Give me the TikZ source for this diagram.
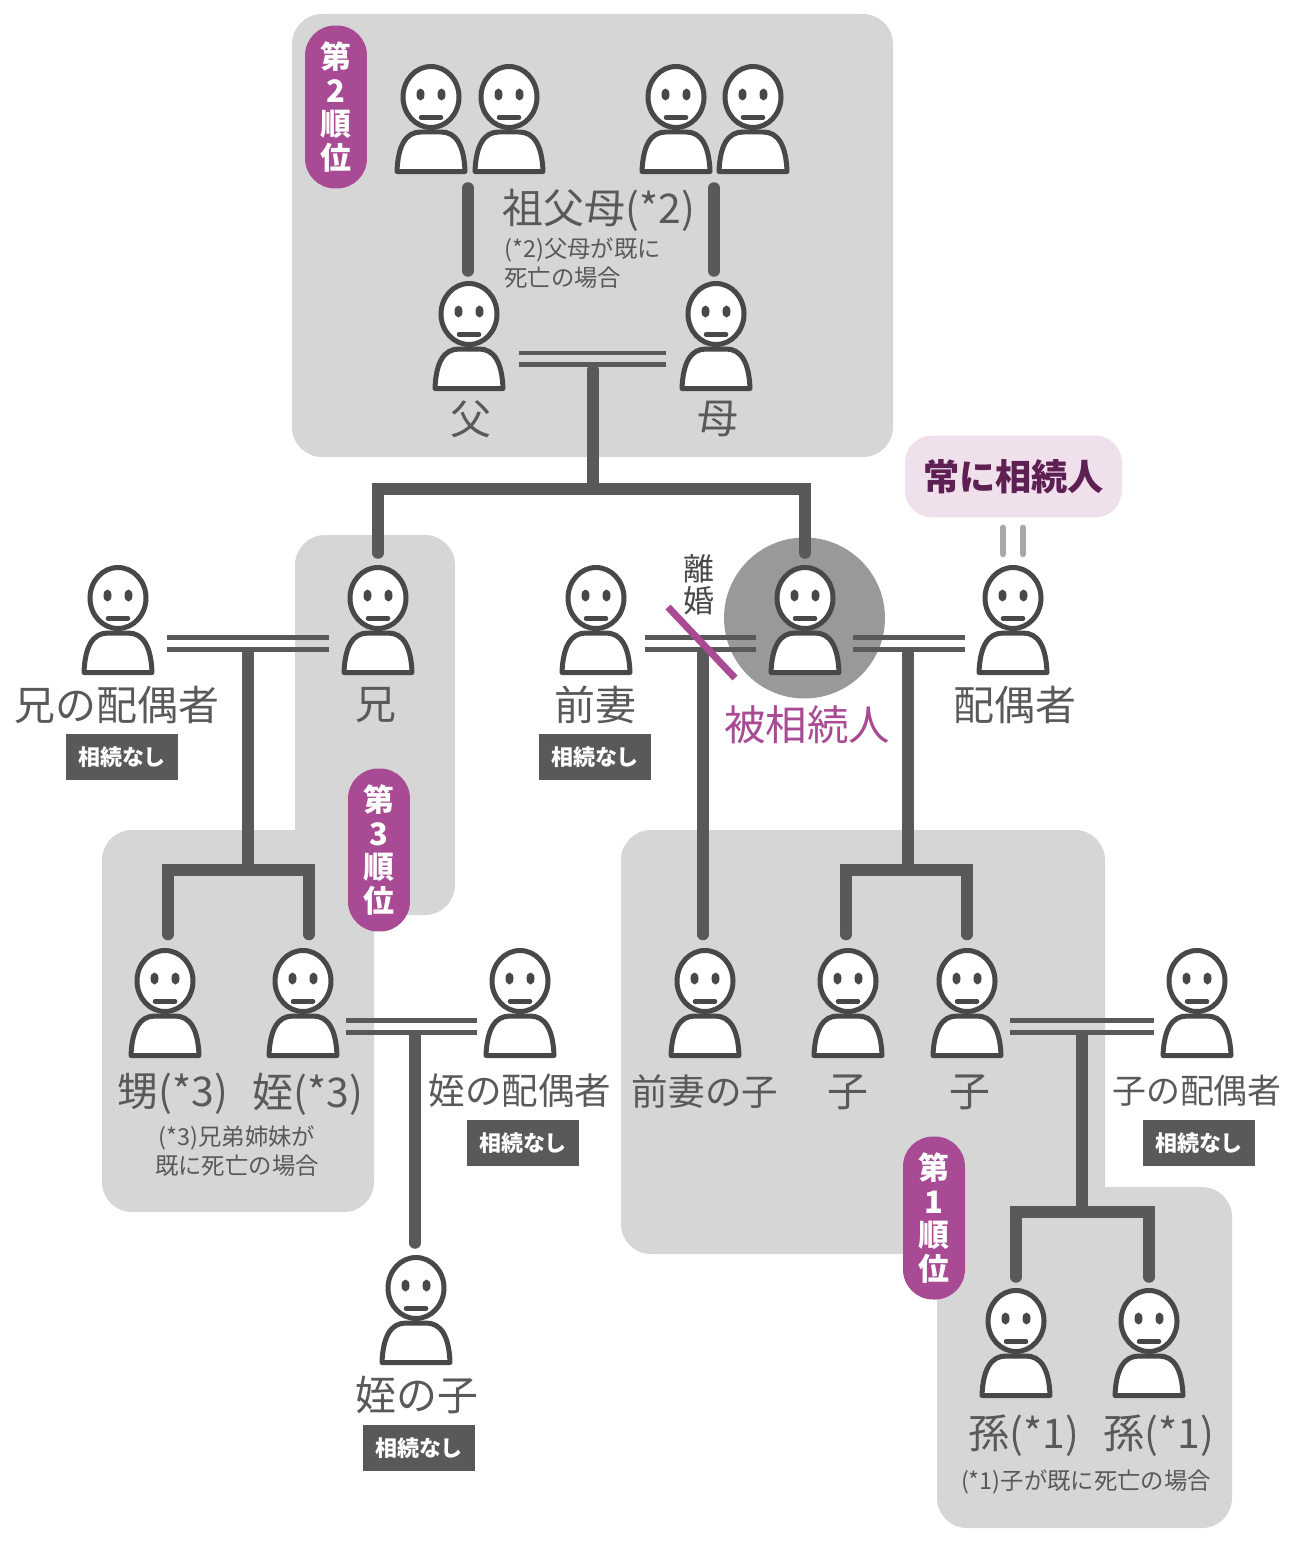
\documentclass[tikz,border=0pt]{standalone}
\usepackage{fontspec}
\setmainfont{Noto Sans CJK JP}
\definecolor{regiongray}{HTML}{D6D6D6}
\definecolor{circlegray}{HTML}{999999}
\definecolor{linegray}{HTML}{595959}
\definecolor{facegray}{HTML}{484848}
\definecolor{rankpurple}{HTML}{A84B94}
\definecolor{alwayspink}{HTML}{EFE0EC}
\definecolor{alwaysplum}{HTML}{5E1F52}
\tikzset{
  person/.style={minimum width=1.52cm, minimum height=2.24cm, inner sep=0pt, outer sep=0pt,
    path picture={
      \begin{scope}[shift=(path picture bounding box.center), x=0.02cm, y=-0.02cm, line width=0.1cm, draw=facegray]
        \filldraw[fill=white, line join=round] (-34,52.5) .. controls (-33,26) and (-25,13) .. (-10,13) -- (10,13)
          .. controls (25,13) and (33,26) .. (34,52.5) -- cycle;
        \filldraw[fill=white] (0,-22) ellipse [x radius=28, y radius=30.5];
        \fill[facegray] (-10.5,-24.5) ellipse [x radius=4, y radius=6];
        \fill[facegray] (10.5,-24.5) ellipse [x radius=4, y radius=6];
        \draw[line width=0.09cm, line cap=round] (-10,-1.5) -- (10,-1.5);
      \end{scope}
    }},
  region/.style={fill=regiongray, rounded corners=0.6cm},
  marriage/.style={draw=linegray, line width=0.1cm},
  branch/.style={draw=linegray, line width=0.23cm, line cap=round},
  biglabel/.style={text=linegray, inner sep=0pt, font=\fontsize{23.3}{28}\selectfont},
  midlabel/.style={text=linegray, inner sep=0pt, font=\fontsize{20.8}{25}\selectfont},
  smalllabel/.style={text=linegray, inner sep=0pt, align=center, font=\fontsize{13.3}{16.5}\selectfont},
  nonebox/.style={fill=linegray, text=white, inner sep=0pt, minimum width=2.24cm, minimum height=0.92cm,
    font=\bfseries\fontsize{12.5}{15}\selectfont},
  rankpill/.style={fill=rankpurple, text=white, inner sep=0pt, align=center, minimum width=1.24cm, minimum height=3.26cm,
    rounded corners=0.6cm, font=\bfseries\fontsize{17.6}{19}\selectfont},
}

\begin{document}
\begin{tikzpicture}[x=0.02cm, y=-0.02cm]

   \useasboundingbox (0,0) rectangle (1300,1541);

   % rank regions
   \fill[region] (292,14) rectangle (893,457);
   \fill[region] (295,535) rectangle (455,915);
   \fill[region] (102,830) rectangle (374,1212);
   \fill[region] (621,830) rectangle (1105,1254);
   \fill[region] (937,1187) rectangle (1232,1528);
   \fill[regiongray] (295,800) rectangle (330,860);
   \fill[regiongray] (1040,1150) rectangle (1105,1220);

   \node [circle, fill=circlegray, minimum size=3.22cm, inner sep=0pt] (vCircle) at (804.5,618) {};

   \foreach \x/\y/\t in {431/119/GrandpaA, 509/119/GrandmaA, 676/119/GrandpaB, 753/119/GrandmaB,
       469/336/Father, 716/336/Mother,
       118/620/BrotherWife, 378/620/Brother, 596/620/ExWife, 805/620/Deceased, 1013/620/Spouse,
       165/1003/Nephew, 303/1003/Niece, 520/1003/NieceSpouse, 705/1003/ExChild,
       848/1003/ChildA, 967/1003/ChildB, 1197/1003/ChildSpouse,
       416/1310/NieceChild, 1016/1343/GrandA, 1149/1343/GrandB}
     \node [person] (v\t) at (\x,\y) {};

   % couples
   \foreach \a/\b/\s in {Father/Mother/0.24cm, BrotherWife/Brother/0.23cm, ExWife/Deceased/0.23cm,
       Deceased/Spouse/0.2cm, Niece/NieceSpouse/0.11cm, ChildB/ChildSpouse/0.1cm}
     \foreach \d in {-0.34cm, -0.58cm}
       \draw[marriage, shorten <=\s, shorten >=\s] ([yshift=\d]v\a.east) -- ([yshift=\d]v\b.west);

   % joints under the couples
   \foreach \x/\y/\t in {593/370/Parents, 248/654/Brother, 703/654/Ex, 908/654/Spouse, 415/1036/Niece, 1082/1036/Child}
     \coordinate (m\t) at (\x,\y);
   \foreach \x/\y/\t in {593/489/Parents, 248/870/Brother, 908/870/Spouse, 1082/1212/Child}
     \coordinate (f\t) at (\x,\y);

   \foreach \t in {Parents, Brother, Spouse, Child}
     \draw[branch] (m\t) -- (f\t);
   \foreach \a/\b/\t/\p/\q/\s in {Brother/Deceased/Parents/0cm/0cm/0.22cm, Nephew/Niece/Brother/0.06cm/0.12cm/0.25cm,
       ChildA/ChildB/Spouse/-0.04cm/0cm/0.25cm, GrandA/GrandB/Child/0cm/0cm/0.2cm}
     \draw[branch, line join=miter, shorten <=\s, shorten >=\s]
       ([xshift=\p]v\a.north) |- (f\t) -| ([xshift=\q]v\b.north);

   \draw[branch, shorten >=0.25cm] (mEx) -- (mEx |- vExChild.north);
   \draw[branch, shorten >=0.22cm] (mNiece) -- (mNiece |- vNieceChild.north);
   \draw[branch, shorten <=0.18cm, shorten >=0.26cm] ([xshift=-0.02cm]vFather.north) -- ([xshift=-0.02cm]vFather.north |- vGrandpaA.south);
   \draw[branch, shorten <=0.18cm, shorten >=0.26cm] ([xshift=-0.04cm]vMother.north) -- ([xshift=-0.04cm]vMother.north |- vGrandpaB.south);

   % divorce mark
   \coordinate (cutA) at (668,607);
   \coordinate (cutB) at (735,678);
   \draw[draw=rankpurple, line width=0.14cm] (cutA) -- (cutB);

   \node [fill=alwayspink, text=alwaysplum, minimum width=4.34cm, minimum height=1.64cm, inner sep=0pt,
       rounded corners=0.54cm, font=\bfseries\fontsize{20.6}{25}\selectfont] (always) at (1013.5,476.5) {常に相続人};
   \foreach \d in {-0.2cm, 0.2cm}
     \draw[draw=circlegray!85, line width=0.13cm, line cap=round, shorten <=0.2cm, shorten >=0.2cm]
       ([xshift=\d]vSpouse.north) -- ([xshift=\d]vSpouse.north |- always.south);

   \foreach \x/\y/\n in {336/107/2, 379/850/3, 934/1218/1}
     \node [rankpill] (rank\n) at (\x,\y) {第\\\n\\順\\位};

   \foreach [count=\i] \x/\y/\t in {599/210/祖父母(*2), 471/419/父, 718/419/母, 117/705/兄の配偶者, 376/705/兄,
       595/705/前妻, 1015/705/配偶者, 173/1094/甥(*3), 308/1094/姪(*3), 848/1092/子, 970/1092/子,
       417/1395/姪の子, 1024/1436/孫(*1), 1159/1436/孫(*1)}
     \node [biglabel] (l\i) at (\x,\y) {\t};

   \foreach [count=\i] \x/\y/\t in {520/1091/姪の配偶者, 705/1092/前妻の子}
     \node [midlabel] (m\i) at (\x,\y) {\t};

   \node [midlabel, font=\fontsize{19.3}{23}\selectfont] (lChildSpouse) at (1197,1091) {子の配偶者};
   \node [biglabel, text=rankpurple, font=\fontsize{23.6}{28}\selectfont] (lDeceased) at (807,725) {被相続人};
   \node [midlabel, align=center, text=facegray, font=\fontsize{17.6}{18.2}\selectfont] (lDivorce) at (699,585) {離\\婚};

   \node [smalllabel, align=left, anchor=west] (nGrand) at (504,263) {(*2)父母が既に\\死亡の場合};
   \node [smalllabel] (nNephew) at (237,1151) {(*3)兄弟姉妹が\\既に死亡の場合};
   \node [smalllabel] (nGrandchild) at (1086,1482) {(*1)子が既に死亡の場合};

   \foreach [count=\i] \x/\y in {122/757, 595/757, 523/1143, 1199/1143, 419/1448}
     \node [nonebox] (none\i) at (\x,\y) {相続なし};

\end{tikzpicture}
\end{document}
